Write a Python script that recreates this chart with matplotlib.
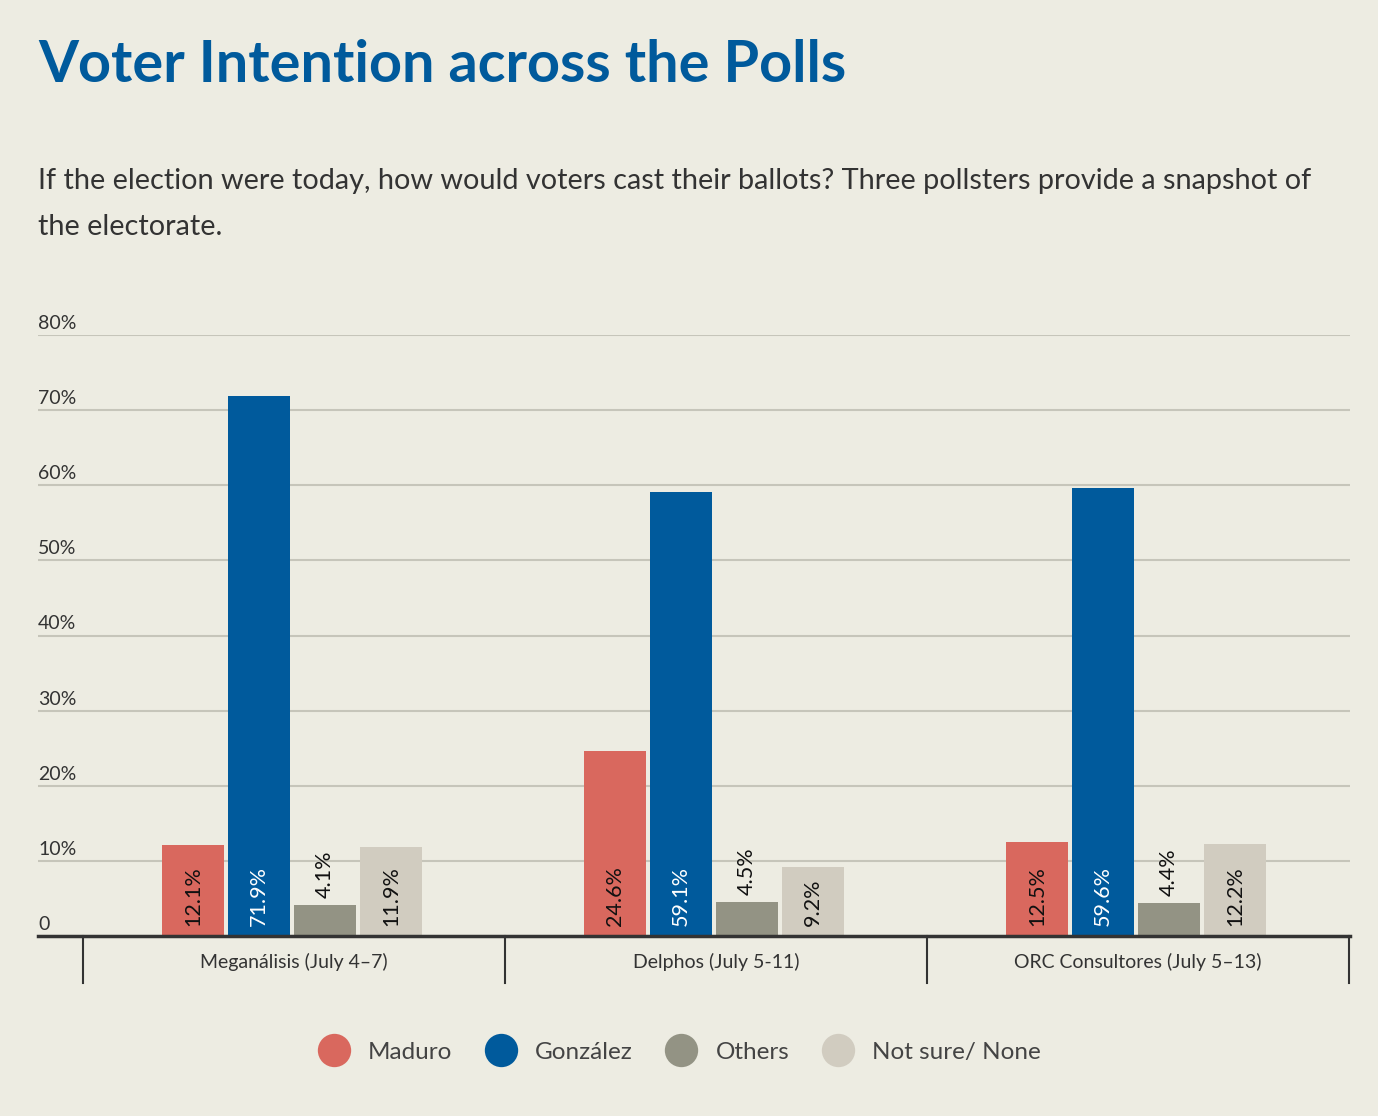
import numpy as np
import matplotlib
matplotlib.use('Agg')
import matplotlib.pyplot as plt
import matplotlib.transforms as mtransforms
from matplotlib.lines import Line2D

plt.rcParams['font.family'] = ['Lato', 'DejaVu Sans']

polls = ['Meganálisis (July 4\u20137)', 'Delphos (July 5-11)', 'ORC Consultores (July 5\u201313)']
series = ['Maduro', 'González', 'Others', 'Not sure/ None']
maduro = [12.1, 24.6, 12.5]
gonzalez = [71.9, 59.1, 59.6]
others = [4.1, 4.5, 4.4]
not_sure = [11.9, 9.2, 12.2]
yticks = [0, 10, 20, 30, 40, 50, 60, 70, 80]

colors = ['#d9685e', '#005a9c', '#939384', '#d1ccc0']
text_colors = ['#111111', '#ffffff', '#111111', '#111111']
bg = '#edece2'

W, H = 1378, 1116
fig = plt.figure(figsize=(W / 100, H / 100), dpi=100, facecolor=bg)

# axes placed in pixel coordinates
left, right, bottom, top = 38, 1350, 936, 335
ax = fig.add_axes([left / W, 1 - bottom / H, (right - left) / W, (bottom - top) / H])
ax.set_facecolor(bg)

step = 422.0
ax.set_xlim(-0.5 - 45 / step, 2.5 + 1 / step)
ax.set_ylim(0, 80)

bw = 62 / step
gap = 66 / step
shift = -2 / step
x = np.arange(len(polls))
data = [maduro, gonzalez, others, not_sure]

for yv in yticks[1:]:
    ax.axhline(yv, color='#c6c5ba', lw=1.5, zorder=0)

for i, vals in enumerate(data):
    xs = x + (i - 1.5) * gap + shift
    ax.bar(xs, vals, width=bw, color=colors[i], zorder=2)
    for xx, v in zip(xs, vals):
        if v > 8:
            ax.annotate(f'{v}%', (xx, 0), xytext=(0, 7), textcoords='offset points',
                        rotation=90, ha='center', va='bottom', fontsize=15.5,
                        color=text_colors[i], zorder=3)
        else:
            ax.annotate(f'{v}%', (xx, v), xytext=(0, 5), textcoords='offset points',
                        rotation=90, ha='center', va='bottom', fontsize=15.5,
                        color='#111111', zorder=3)

# baseline
ax.axhline(0, color='#333333', lw=2.5, zorder=4, clip_on=False)

trans = mtransforms.blended_transform_factory(ax.transAxes, ax.transData)
for yv in yticks:
    lab = '0' if yv == 0 else f'{yv}%'
    ax.text(0, yv + 0.4, lab, transform=trans, ha='left', va='bottom', fontsize=14,
            color='#333333')

# category separators and labels
for s in np.arange(-0.5, 3, 1):
    ax.plot([s, s], [0, -47 / 7.52], color='#333333', lw=1.5, clip_on=False)
for xx, p in zip(x, polls):
    ax.text(xx, -26 / 7.52, p, ha='center', va='center', fontsize=14, color='#333333')

for sp in ax.spines.values():
    sp.set_visible(False)
ax.set_xticks([])
ax.set_yticks([])

fig.text(38 / W, 1 - 66 / H, 'Voter Intention across the Polls', fontsize=41.5,
         fontweight='bold', color='#005a9c', va='center', ha='left')
fig.text(38 / W, 1 - 204 / H,
         'If the election were today, how would voters cast their ballots? Three pollsters provide a snapshot of\nthe electorate.',
         fontsize=20.8, color='#333333', va='center', ha='left', linespacing=1.95)

handles = [Line2D([], [], marker='o', ls='', markersize=24, color=c, markeredgewidth=0)
           for c in colors]
fig.legend(handles, series, loc='center', bbox_to_anchor=(0.49, 1 - 1052 / H), ncol=4,
           frameon=False, fontsize=17.5, labelcolor='#444444', handletextpad=0.4,
           columnspacing=1.0)

fig.savefig('out.png', dpi=100, facecolor=bg)
